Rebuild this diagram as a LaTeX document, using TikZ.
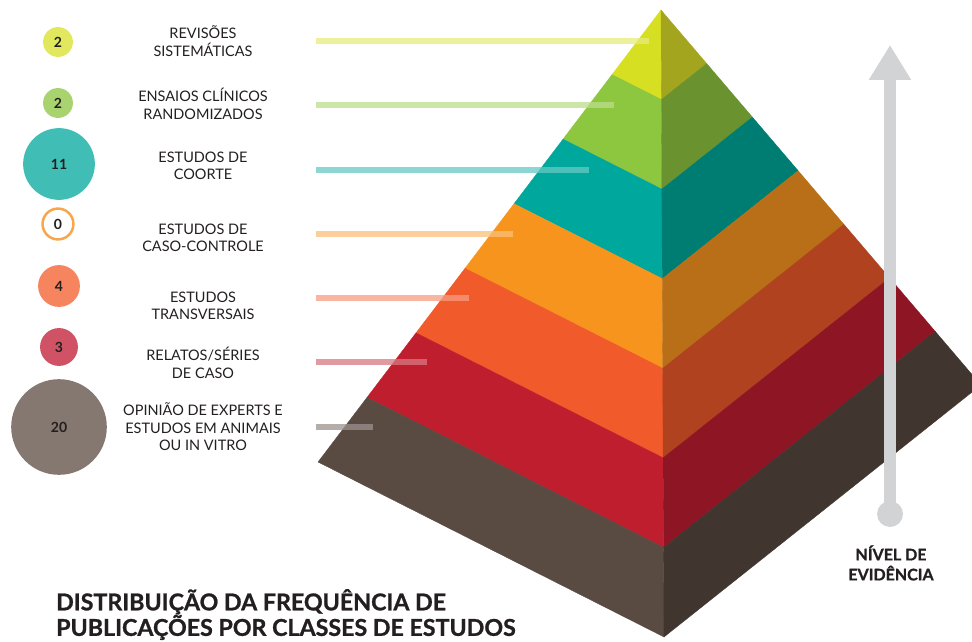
\documentclass[tikz,border=0pt]{standalone}
\usepackage{fontspec}
\setmainfont{Lato}
\newfontfamily\heavyfont[BoldFeatures={FakeBold=1}]{Lato}
\usepackage{xcolor}
\usetikzlibrary{positioning,calc,arrows.meta}

% pyramid faces (left / right)
\definecolor{lyel}{HTML}{D7DF23}\definecolor{ryel}{HTML}{A3A51E}
\definecolor{lgre}{HTML}{8DC63F}\definecolor{rgre}{HTML}{6A922F}
\definecolor{ltea}{HTML}{00A79D}\definecolor{rtea}{HTML}{007D72}
\definecolor{lora}{HTML}{F7941D}\definecolor{rora}{HTML}{B86F17}
\definecolor{lred}{HTML}{F15A2B}\definecolor{rred}{HTML}{B1421F}
\definecolor{lcri}{HTML}{BE1E2D}\definecolor{rcri}{HTML}{8E1624}
\definecolor{lbro}{HTML}{594A42}\definecolor{rbro}{HTML}{41362F}
% counts
\definecolor{cyel}{HTML}{E1E85D}\definecolor{cgre}{HTML}{A9D36F}
\definecolor{ctea}{HTML}{40BDB5}\definecolor{cora}{HTML}{F8A64B}
\definecolor{csal}{HTML}{F5845F}\definecolor{cred}{HTML}{CF5364}
\definecolor{cgry}{HTML}{857870}
\definecolor{evgrey}{HTML}{D1D3D4}
\definecolor{txt}{HTML}{231F20}

\tikzset{
  numdot/.style={circle, inner sep=0pt, text=txt,
    font=\bfseries\fontsize{14bp}{14bp}\selectfont},
  lbl/.style={align=center, text=txt, font=\fontsize{14.5bp}{17.5bp}\selectfont},
  bar/.style={line width=7, opacity=0.75, draw=#1!60!white},
  evarrow/.style={evgrey, line width=12.5, -{Triangle[width=40pt,length=35pt]}},
}

\begin{document}
\begin{tikzpicture}[x=1bp,y=-1bp]
    \useasboundingbox (0,0) rectangle (972,642);
    \clip (0,0) rectangle (972,642);

    % Pyramid
    \coordinate (apex) at (661,10);
    \coordinate (pl) at (318,462);
    \coordinate (pc) at (664,637);
    \coordinate (pr) at (981,385);
    \foreach \k/\cl/\cr in {1/lyel/ryel,2/lgre/rgre,3/ltea/rtea,4/lora/rora,
                            5/lred/rred,6/lcri/rcri,7/lbro/rbro}{
        \pgfmathsetmacro{\a}{(\k-1)/7}
        \pgfmathsetmacro{\b}{\k/7}
        \fill[\cl, draw=\cl, line width=0.3] ($(apex)!\a!(pl)$) -- ($(apex)!\b!(pl)$)
            -- ($(apex)!\b!(pc)$) -- ($(apex)!\a!(pc)$) -- cycle;
        \fill[\cr, draw=\cr, line width=0.3] ($(apex)!\a!(pc)$) -- ($(apex)!\b!(pc)$)
            -- ($(apex)!\b!(pr)$) -- ($(apex)!\a!(pr)$) -- cycle;
    }

    % Counts
    \node[numdot, fill=cyel, minimum size=30] (n1) at (58,42) {2};
    \node[numdot, fill=cgre, minimum size=30] (n2) at (58,103) {2};
    \node[numdot, fill=ctea, minimum size=72] (n3) at (59,164) {11};
    \node[numdot, draw=cora, line width=2.5, fill=white, minimum size=31] (n4) at (58,224) {0};
    \node[numdot, fill=csal, minimum size=42] (n5) at (59,286) {4};
    \node[numdot, fill=cred, minimum size=38] (n6) at (59,347) {3};
    \node[numdot, fill=cgry, minimum size=96] (n7) at (59,427) {20};

    % Classes
    \node[lbl] (t1) at (203,41) {REVISÕES\\SISTEMÁTICAS};
    \node[lbl] (t2) at (203,104) {ENSAIOS CLÍNICOS\\RANDOMIZADOS};
    \node[lbl] (t3) at (203,166) {ESTUDOS DE\\COORTE};
    \node[lbl] (t4) at (203,238) {ESTUDOS DE\\CASO-CONTROLE};
    \node[lbl] (t5) at (203,306) {ESTUDOS\\TRANSVERSAIS};
    \node[lbl] (t6) at (203,363) {RELATOS/SÉRIES\\DE CASO};
    \node[lbl] (t7) at (203,427) {OPINIÃO DE EXPERTS E\\ESTUDOS EM ANIMAIS\\OU IN VITRO};

    % Bars into the pyramid
    \foreach \i/\y/\xe/\cl in {1/41/649/lyel,2/105/614/lgre,3/170/589/ltea,4/234/513/lora,
                               5/298/469/lred,6/362/427/lcri,7/427/373/lbro}{
        \coordinate (bs\i) at (316,\y);
        \coordinate (be\i) at (\xe,\y);
        \draw[bar=\cl] (bs\i) -- (be\i);
    }

    % Evidence arrow
    \node[circle, fill=evgrey, minimum size=26, inner sep=0pt] (evlow) at (890,514) {};
    \coordinate (evtop) at (890,45);
    \draw[evarrow] (evlow.center) -- (evtop);
    \node[align=center, text=txt, font=\heavyfont\bfseries\fontsize{16bp}{20bp}\selectfont]
        (evtxt) at (891,563) {NÍVEL DE\\EVIDÊNCIA};

    % Title
    \node[anchor=north west, align=left, text=txt, inner sep=0pt,
          font=\heavyfont\bfseries\fontsize{23.2bp}{25.5bp}\selectfont]
        (title) at (56,589) {DISTRIBUIÇÃO DA FREQUÊNCIA DE\\PUBLICAÇÕES POR CLASSES DE ESTUDOS};
\end{tikzpicture}
\end{document}
